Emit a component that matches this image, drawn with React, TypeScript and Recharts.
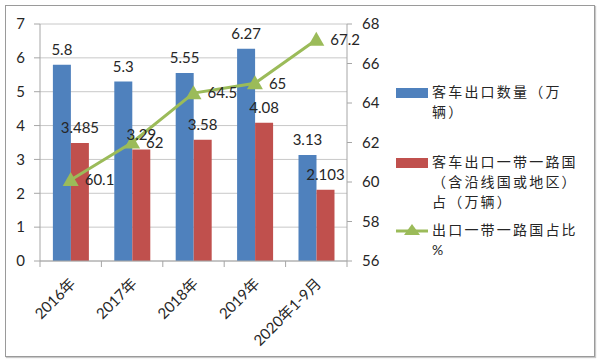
import React from 'react';
import { ComposedChart, Bar, Line, XAxis, YAxis, CartesianGrid, LabelList } from 'recharts';

const categories = ['2016年', '2017年', '2018年', '2019年', '2020年1-9月'];
const exports = [5.8, 5.3, 5.55, 6.27, 3.13];
const beltRoad = [3.485, 3.29, 3.58, 4.08, 2.103];
const share = [60.1, 62, 64.5, 65, 67.2];
const leftTicks = [0, 1, 2, 3, 4, 5, 6, 7];
const rightTicks = [56, 58, 60, 62, 64, 66, 68];

const legendItems = [
  { kind: 'bar', color: '#4F81BD', lines: ['客车出口数量（万', '辆）'], top: 82 },
  { kind: 'bar', color: '#C0504D', lines: ['客车出口一带一路国', '（含沿线国或地区）', '占（万辆）'], top: 152 },
  { kind: 'line', color: '#9BBB59', lines: ['出口一带一路国占比', '%'], top: 220 },
];

const data = categories.map((name, i) => ({
  name,
  exports: exports[i],
  beltRoad: beltRoad[i],
  share: share[i],
}));

const FONT = "Lato, 'Noto Sans CJK SC', sans-serif";
const TEXT = '#262626';
const AXIS = '#a6a6a6';

const XTick = (props: any) => {
  const { x, y, payload, index } = props;
  const half = payload?.offset ?? 30.7;
  return (
    <g>
      <line x1={x - half} x2={x - half} y1={y} y2={y + 6} stroke={AXIS} />
      {index === categories.length - 1 && (
        <line x1={x + half} x2={x + half} y1={y} y2={y + 6} stroke={AXIS} />
      )}
      <g transform={`translate(${x + 2},${y + 20}) rotate(-45)`}>
        <text x={0} y={0} dy="0.35em" textAnchor="end" fill={TEXT} fontSize={15} fontFamily={FONT}>
          {payload.value}
        </text>
      </g>
    </g>
  );
};

const Triangle = (props: any) => {
  const { cx, cy } = props;
  if (cx == null || cy == null) return null;
  return <polygon points={`${cx},${cy - 8} ${cx - 8},${cy + 6} ${cx + 8},${cy + 6}`} fill="#9BBB59" />;
};

const labelStyle = { fill: TEXT, fontSize: 15, fontFamily: FONT };

export default function App() {
  return (
    <div style={{ position: 'absolute', left: 0, top: 0, width: 600, height: 362, background: '#fff' }}>
      <div
        style={{
          position: 'absolute',
          left: 5,
          top: 5,
          width: 588,
          height: 350,
          border: '1.5px solid #9a9a9a',
          boxShadow: '1px 1px 1px #c8c8c8',
        }}
      />
      <div style={{ position: 'absolute', left: 0, top: 0 }}>
        <ComposedChart
          width={600}
          height={362}
          data={data}
          margin={{ top: 24, right: 213, left: 0, bottom: 21 }}
          barCategoryGap="21%"
          barGap={0}
        >
          <CartesianGrid vertical={false} stroke="#c8c8c8" yAxisId="left" />
          <XAxis
            dataKey="name"
            height={80}
            axisLine={{ stroke: AXIS }}
            tickLine={false}
            tickSize={0}
            tickMargin={0}
            interval={0}
            tick={<XTick />}
          />
          <YAxis
            yAxisId="left"
            width={40}
            domain={[0, 7]}
            ticks={leftTicks}
            axisLine={{ stroke: AXIS }}
            tickLine={{ stroke: AXIS }}
            tickSize={6}
            tickMargin={9}
            tick={{ fill: TEXT, fontSize: 15, fontFamily: FONT }}
          />
          <YAxis
            yAxisId="right"
            orientation="right"
            width={40}
            domain={[56, 68]}
            ticks={rightTicks}
            axisLine={{ stroke: AXIS }}
            tickLine={{ stroke: AXIS }}
            tickSize={5}
            tickMargin={10}
            tick={{ fill: TEXT, fontSize: 15, fontFamily: FONT, textAnchor: 'start' }}
          />
          <Bar yAxisId="left" dataKey="exports" fill="#4F81BD" isAnimationActive={false}>
            <LabelList dataKey="exports" position="top" offset={10} style={labelStyle} />
          </Bar>
          <Bar yAxisId="left" dataKey="beltRoad" fill="#C0504D" isAnimationActive={false}>
            <LabelList dataKey="beltRoad" position="top" offset={10} style={labelStyle} />
          </Bar>
          <Line
            yAxisId="right"
            dataKey="share"
            stroke="#9BBB59"
            strokeWidth={3}
            dot={<Triangle />}
            activeDot={false}
            isAnimationActive={false}
          >
            <LabelList dataKey="share" position="right" offset={14} style={labelStyle} />
          </Line>
        </ComposedChart>
      </div>
      {legendItems.map((item, i) => (
        <div
          key={i}
          style={{ position: 'absolute', left: 396, top: item.top, display: 'flex', fontFamily: FONT }}
        >
          <div style={{ width: 32, height: 20, position: 'relative', marginRight: 4 }}>
            {item.kind === 'bar' ? (
              <div style={{ position: 'absolute', left: 0, top: 6, width: 32, height: 10, background: item.color }} />
            ) : (
              <svg width={32} height={20} style={{ position: 'absolute', left: 0, top: 0 }}>
                <line x1={0} x2={32} y1={11} y2={11} stroke={item.color} strokeWidth={3} />
                <polygon points="16,4 8,15 24,15" fill={item.color} />
              </svg>
            )}
          </div>
          <div style={{ color: TEXT, fontSize: 14, lineHeight: '20px', letterSpacing: 2.2 }}>
            {item.lines.map((l, j) => (
              <div key={j}>{l}</div>
            ))}
          </div>
        </div>
      ))}
    </div>
  );
}
